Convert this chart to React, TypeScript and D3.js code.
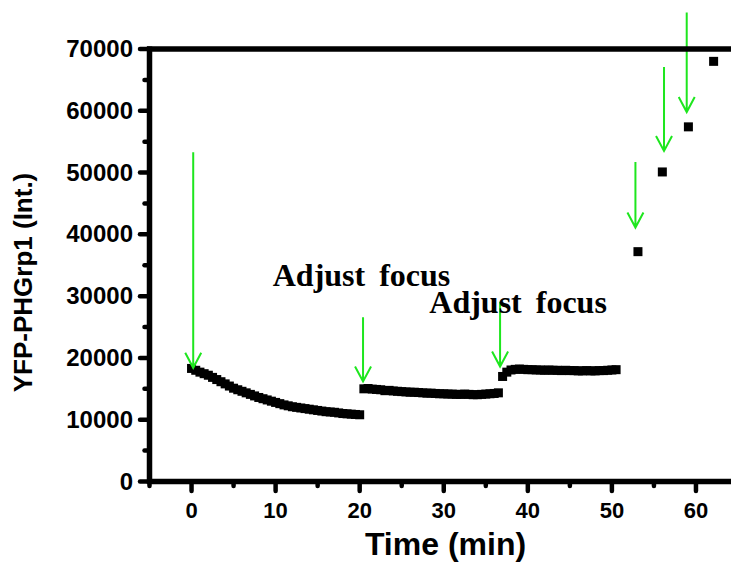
import React from 'react';
import * as d3 from 'd3';

const W = 731;
const H = 562;

// Segment 1: t = 0 .. 20 min, every 0.5 min
const seg1Start = 0;
const seg1Values = [
  18300, 18000, 17700, 17450, 17200, 16850, 16500, 16150, 15800, 15450,
  15100, 14850, 14600, 14350, 14100, 13850, 13600, 13400, 13200, 13000,
  12800, 12600, 12400, 12250, 12100, 12000, 11900, 11800, 11700, 11600,
  11500, 11400, 11300, 11250, 11200, 11100, 11000, 10950, 10900, 10850,
  10800,
];
// Segment 2: t = 20.5 .. 36.5 min
const seg2Start = 20.5;
const seg2Values = [
  15000, 15050, 14950, 14900, 14850, 14700, 14750, 14650, 14600, 14550,
  14500, 14450, 14450, 14400, 14350, 14300, 14300, 14250, 14200, 14200,
  14150, 14150, 14100, 14100, 14150, 14100, 14050, 14050, 14100, 14150,
  14200, 14250, 14350,
];
// Segment 3: t = 37 .. 50.5 min
const seg3Start = 37;
const seg3Values = [
  17000, 17700, 18050, 18150, 18200, 18150, 18100, 18100, 18050, 18050,
  18000, 18050, 18000, 18000, 17950, 18000, 17950, 17950, 17900, 17900,
  17950, 17900, 17900, 17950, 17950, 18000, 18050, 18100,
];
const sampleStep = 0.5;

// Isolated points
const singleTimes = [53.1, 56.0, 59.1, 62.1];
const singleValues = [37200, 50100, 57400, 68000];

// Green arrows (data coords)
const arrowTimes = [0.2, 20.4, 36.7, 52.8, 56.2, 58.9];
const arrowTops = [53300, 26600, 29100, 51700, 67100, 75900];
const arrowTips = [18400, 16200, 18600, 41100, 53500, 59800];

// Annotations
const noteTexts = ['Adjust focus', 'Adjust focus'];
const noteTimes = [9.66, 28.28];
const noteValues = [31640, 27270];

const xMajorTicks = [0, 10, 20, 30, 40, 50, 60];
const xMinorTicks = [-5, 5, 15, 25, 35, 45, 55];
const yMajorTicks = [0, 10000, 20000, 30000, 40000, 50000, 60000, 70000];
const yMinorTicks = [5000, 15000, 25000, 35000, 45000, 55000, 65000];

const xTitle = 'Time (min)';
const yTitle = 'YFP-PHGrp1 (Int.)';

const SANS = '"Liberation Sans", Arial, sans-serif';
const SERIF = '"Liberation Serif", "Times New Roman", serif';
const GREEN = '#1ee61e';

function buildSeg(start: number, values: number[]) {
  return values.map((v, i) => ({ t: start + i * sampleStep, v }));
}

export default function App() {
  const x = d3.scaleLinear().domain([-5, 65]).range([149.5, 738]);
  const y = d3.scaleLinear().domain([0, 70000]).range([481.5, 49]);

  const points = [
    ...buildSeg(seg1Start, seg1Values),
    ...buildSeg(seg2Start, seg2Values),
    ...buildSeg(seg3Start, seg3Values),
    ...singleTimes.map((t, i) => ({ t, v: singleValues[i] })),
  ];

  const x0 = x(-5);
  const y0 = y(0);
  const yTop = y(70000);
  const ms = 9;

  return (
    <svg
      width={W}
      height={H}
      style={{ position: 'absolute', left: 0, top: 0, background: '#fff' }}
    >
      <rect x={0} y={0} width={W} height={H} fill="#fff" />

      {/* data */}
      {points.map((p, i) => (
        <rect
          key={i}
          x={x(p.t) - ms / 2}
          y={y(p.v) - ms / 2}
          width={ms}
          height={ms}
          fill="#000"
        />
      ))}

      {/* arrows */}
      {arrowTimes.map((t, i) => {
        const ax = x(t);
        const top = y(arrowTops[i]);
        const tip = y(arrowTips[i]);
        return (
          <path
            key={i}
            d={`M${ax},${top}L${ax},${tip}M${ax - 8},${tip - 15}L${ax},${tip}L${ax + 8},${tip - 15}`}
            fill="none"
            stroke={GREEN}
            strokeWidth={2}
          />
        );
      })}

      {/* annotations */}
      {noteTexts.map((s, i) => (
        <text
          key={i}
          x={x(noteTimes[i])}
          y={y(noteValues[i])}
          fontFamily={SERIF}
          fontWeight="bold"
          fontSize={32}
          style={{ wordSpacing: '6px' }}
          fill="#000"
        >
          {s}
        </text>
      ))}

      {/* axes lines */}
      <line x1={x0} x2={x0} y1={y0 + 2.5} y2={yTop - 2.5} stroke="#000" strokeWidth={5.5} />
      <line x1={x0 - 2.5} x2={W} y1={y0} y2={y0} stroke="#000" strokeWidth={5.5} />
      <line x1={x0 - 2.5} x2={W} y1={yTop} y2={yTop} stroke="#000" strokeWidth={5.5} />

      {/* x ticks */}
      {xMajorTicks.map((t) => (
        <line key={'xM' + t} x1={x(t)} x2={x(t)} y1={y0} y2={y0 + 9.5} stroke="#000" strokeWidth={4.5} strokeLinecap="round" />
      ))}
      {xMinorTicks.map((t) => (
        <line key={'xm' + t} x1={x(t)} x2={x(t)} y1={y0} y2={y0 + 4.5} stroke="#000" strokeWidth={4.5} strokeLinecap="round" />
      ))}
      {xMajorTicks.map((t) => (
        <text key={'xl' + t} x={x(t)} y={518} textAnchor="middle" fontFamily={SANS} fontWeight="bold" fontSize={22} fill="#000">
          {t}
        </text>
      ))}

      {/* y ticks */}
      {yMajorTicks.map((v) => (
        <line key={'yM' + v} x1={x0} x2={x0 - 9.5} y1={y(v)} y2={y(v)} stroke="#000" strokeWidth={4.5} strokeLinecap="round" />
      ))}
      {yMinorTicks.map((v) => (
        <line key={'ym' + v} x1={x0} x2={x0 - 5} y1={y(v)} y2={y(v)} stroke="#000" strokeWidth={4.5} strokeLinecap="round" />
      ))}
      {yMajorTicks.map((v) => (
        <text key={'yl' + v} x={133} y={y(v) + 8} textAnchor="end" fontFamily={SANS} fontWeight="bold" fontSize={24} fill="#000">
          {v}
        </text>
      ))}

      {/* titles */}
      <text x={445.5} y={555} textAnchor="middle" fontFamily={SANS} fontWeight="bold" fontSize={32} fill="#000">
        {xTitle}
      </text>
      <text
        transform={`translate(32,282.5) rotate(-90)`}
        textAnchor="middle"
        fontFamily={SANS}
        fontWeight="bold"
        fontSize={26}
        fill="#000"
      >
        {yTitle}
      </text>
    </svg>
  );
}
